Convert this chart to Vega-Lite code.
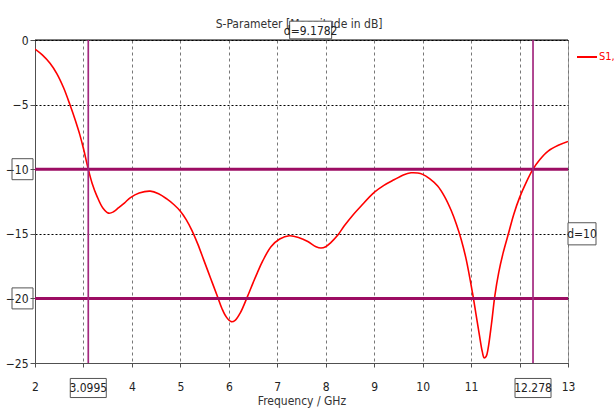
{
  "$schema": "https://vega.github.io/schema/vega-lite/v6.json",
  "width": 533,
  "height": 323,
  "autosize": {"type": "none"},
  "padding": {"left": 35, "top": 40, "right": 47, "bottom": 54},
  "background": "white",
  "config": {
    "view": {"stroke": "#a0a0a0", "strokeWidth": 1},
    "font": "'Liberation Sans Narrow', 'DejaVu Sans Condensed', 'Liberation Sans', sans-serif",
    "text": {"font": "'Liberation Sans Narrow', 'DejaVu Sans Condensed', 'Liberation Sans', sans-serif"},
    "axis": {
      "labelFont": "'Liberation Sans Narrow', 'DejaVu Sans Condensed', 'Liberation Sans', sans-serif",
      "labelFontSize": 12,
      "labelColor": "#222222",
      "titleFont": "'Liberation Sans Narrow', 'DejaVu Sans Condensed', 'Liberation Sans', sans-serif",
      "titleFontSize": 12,
      "titleFontWeight": "normal",
      "titleColor": "#333333",
      "domainColor": "#505050",
      "tickColor": "#505050"
    }
  },
  "datasets": {
    "s11": [
      {"freq": 2.00, "db": -0.7, "series": "S1,1"},
      {"freq": 2.15, "db": -1.15, "series": "S1,1"},
      {"freq": 2.31, "db": -1.8, "series": "S1,1"},
      {"freq": 2.45, "db": -2.6, "series": "S1,1"},
      {"freq": 2.59, "db": -3.7, "series": "S1,1"},
      {"freq": 2.72, "db": -5.0, "series": "S1,1"},
      {"freq": 2.83, "db": -6.2, "series": "S1,1"},
      {"freq": 2.93, "db": -7.4, "series": "S1,1"},
      {"freq": 3.00, "db": -8.4, "series": "S1,1"},
      {"freq": 3.0995, "db": -10.0, "series": "S1,1"},
      {"freq": 3.18, "db": -11.1, "series": "S1,1"},
      {"freq": 3.28, "db": -12.1, "series": "S1,1"},
      {"freq": 3.40, "db": -13.0, "series": "S1,1"},
      {"freq": 3.52, "db": -13.4, "series": "S1,1"},
      {"freq": 3.62, "db": -13.3, "series": "S1,1"},
      {"freq": 3.72, "db": -13.0, "series": "S1,1"},
      {"freq": 3.85, "db": -12.6, "series": "S1,1"},
      {"freq": 3.97, "db": -12.2, "series": "S1,1"},
      {"freq": 4.15, "db": -11.85, "series": "S1,1"},
      {"freq": 4.38, "db": -11.7, "series": "S1,1"},
      {"freq": 4.55, "db": -11.9, "series": "S1,1"},
      {"freq": 4.72, "db": -12.3, "series": "S1,1"},
      {"freq": 4.87, "db": -12.75, "series": "S1,1"},
      {"freq": 5.00, "db": -13.25, "series": "S1,1"},
      {"freq": 5.12, "db": -13.9, "series": "S1,1"},
      {"freq": 5.24, "db": -14.75, "series": "S1,1"},
      {"freq": 5.36, "db": -15.8, "series": "S1,1"},
      {"freq": 5.48, "db": -17.0, "series": "S1,1"},
      {"freq": 5.62, "db": -18.4, "series": "S1,1"},
      {"freq": 5.76, "db": -19.8, "series": "S1,1"},
      {"freq": 5.86, "db": -20.8, "series": "S1,1"},
      {"freq": 5.95, "db": -21.45, "series": "S1,1"},
      {"freq": 6.05, "db": -21.8, "series": "S1,1"},
      {"freq": 6.13, "db": -21.7, "series": "S1,1"},
      {"freq": 6.24, "db": -21.1, "series": "S1,1"},
      {"freq": 6.38, "db": -19.9, "series": "S1,1"},
      {"freq": 6.50, "db": -18.8, "series": "S1,1"},
      {"freq": 6.59, "db": -18.0, "series": "S1,1"},
      {"freq": 6.70, "db": -17.1, "series": "S1,1"},
      {"freq": 6.87, "db": -16.0, "series": "S1,1"},
      {"freq": 7.05, "db": -15.4, "series": "S1,1"},
      {"freq": 7.25, "db": -15.15, "series": "S1,1"},
      {"freq": 7.45, "db": -15.3, "series": "S1,1"},
      {"freq": 7.63, "db": -15.6, "series": "S1,1"},
      {"freq": 7.80, "db": -16.0, "series": "S1,1"},
      {"freq": 7.90, "db": -16.1, "series": "S1,1"},
      {"freq": 8.00, "db": -16.0, "series": "S1,1"},
      {"freq": 8.10, "db": -15.7, "series": "S1,1"},
      {"freq": 8.25, "db": -15.1, "series": "S1,1"},
      {"freq": 8.38, "db": -14.4, "series": "S1,1"},
      {"freq": 8.55, "db": -13.6, "series": "S1,1"},
      {"freq": 8.73, "db": -12.85, "series": "S1,1"},
      {"freq": 9.00, "db": -11.8, "series": "S1,1"},
      {"freq": 9.20, "db": -11.25, "series": "S1,1"},
      {"freq": 9.42, "db": -10.8, "series": "S1,1"},
      {"freq": 9.60, "db": -10.45, "series": "S1,1"},
      {"freq": 9.76, "db": -10.28, "series": "S1,1"},
      {"freq": 9.90, "db": -10.3, "series": "S1,1"},
      {"freq": 10.00, "db": -10.4, "series": "S1,1"},
      {"freq": 10.15, "db": -10.75, "series": "S1,1"},
      {"freq": 10.31, "db": -11.3, "series": "S1,1"},
      {"freq": 10.45, "db": -12.1, "series": "S1,1"},
      {"freq": 10.59, "db": -13.2, "series": "S1,1"},
      {"freq": 10.70, "db": -14.3, "series": "S1,1"},
      {"freq": 10.80, "db": -15.5, "series": "S1,1"},
      {"freq": 10.90, "db": -17.0, "series": "S1,1"},
      {"freq": 11.03, "db": -19.6, "series": "S1,1"},
      {"freq": 11.10, "db": -21.2, "series": "S1,1"},
      {"freq": 11.17, "db": -22.8, "series": "S1,1"},
      {"freq": 11.23, "db": -24.1, "series": "S1,1"},
      {"freq": 11.27, "db": -24.6, "series": "S1,1"},
      {"freq": 11.31, "db": -24.5, "series": "S1,1"},
      {"freq": 11.35, "db": -23.9, "series": "S1,1"},
      {"freq": 11.42, "db": -22.0, "series": "S1,1"},
      {"freq": 11.49, "db": -19.8, "series": "S1,1"},
      {"freq": 11.57, "db": -18.0, "series": "S1,1"},
      {"freq": 11.66, "db": -16.5, "series": "S1,1"},
      {"freq": 11.77, "db": -15.0, "series": "S1,1"},
      {"freq": 11.88, "db": -13.5, "series": "S1,1"},
      {"freq": 12.00, "db": -12.2, "series": "S1,1"},
      {"freq": 12.14, "db": -11.0, "series": "S1,1"},
      {"freq": 12.278, "db": -10.0, "series": "S1,1"},
      {"freq": 12.42, "db": -9.25, "series": "S1,1"},
      {"freq": 12.59, "db": -8.6, "series": "S1,1"},
      {"freq": 12.80, "db": -8.15, "series": "S1,1"},
      {"freq": 13.00, "db": -7.85, "series": "S1,1"}
    ],
    "heading": [
      {"center": 7.45, "label": "S-Parameter [Magnitude in dB]"}
    ],
    "xmarks": [
      {"freq": 3.0995, "label": "3.0995"},
      {"freq": 12.278, "label": "12.278"}
    ],
    "ymarks": [
      {"level": -10},
      {"level": -20}
    ],
    "span": [
      {"mid": 7.68875, "label": "d=9.1782"}
    ],
    "gap": [
      {"level": -15, "label": "d=10"}
    ]
  },
  "layer": [
    {
      "data": {"name": "s11"},
      "mark": {"type": "line", "color": "#ff0000", "strokeWidth": 1.6, "interpolate": "catmull-rom", "clip": true},
      "encoding": {
        "x": {
          "field": "freq",
          "type": "quantitative",
          "scale": {"domain": [2, 13], "nice": false, "zero": false},
          "axis": {
            "title": "Frequency / GHz",
            "titlePadding": 3,
            "values": [2, 3, 4, 5, 6, 7, 8, 9, 10, 11, 12, 13],
            "labelExpr": "datum.value == 3 || datum.value == 12 ? '' : datum.label",
            "tickSize": 4,
            "labelPadding": 14,
            "grid": true,
            "gridDash": [3, 3],
            "gridColor": "#777777",
            "gridOpacity": 1,
            "labelFlush": false
          }
        },
        "y": {
          "field": "db",
          "type": "quantitative",
          "scale": {"domain": [-25, 0], "nice": false, "zero": false},
          "axis": {
            "title": null,
            "values": [0, -5, -10, -15, -20, -25],
            "tickSize": 5,
            "labelPadding": 2,
            "grid": true,
            "gridDash": [2, 2],
            "gridColor": "#000000",
            "gridOpacity": 1,
            "labelFlush": false
          }
        },
        "color": {
          "field": "series",
          "type": "nominal",
          "scale": {"range": ["#ff0000"]},
          "legend": {
            "title": null,
            "orient": "none",
            "legendX": 541,
            "legendY": 6,
            "padding": 0,
            "symbolType": "stroke",
            "symbolSize": 400,
            "symbolStrokeWidth": 2,
            "labelColor": "#ff0000",
            "labelFont": "'Liberation Sans Narrow', 'DejaVu Sans Condensed', 'Liberation Sans', sans-serif",
            "labelFontSize": 11,
            "labelOffset": 1
          }
        }
      }
    },
    {
      "data": {"values": [{"top": 0}]},
      "mark": {"type": "rule", "color": "#000000", "strokeWidth": 1.2},
      "encoding": {"y": {"field": "top", "type": "quantitative"}}
    },
    {
      "data": {"name": "ymarks"},
      "mark": {"type": "rule", "color": "#9c0d63", "strokeWidth": 3},
      "encoding": {"y": {"field": "level", "type": "quantitative"}}
    },
    {
      "data": {"name": "xmarks"},
      "mark": {"type": "rule", "color": "#a3287f", "strokeWidth": 1.7},
      "encoding": {"x": {"field": "freq", "type": "quantitative"}}
    },
    {
      "data": {"name": "heading"},
      "mark": {"type": "text", "fontSize": 12, "color": "#333333", "baseline": "middle", "align": "center", "yOffset": -16.5, "clip": false},
      "encoding": {
        "x": {"field": "center", "type": "quantitative"},
        "y": {"datum": 0, "type": "quantitative"},
        "text": {"field": "label"}
      }
    },
    {
      "data": {"name": "ymarks"},
      "mark": {"type": "point", "shape": "square", "filled": false, "size": 441, "stroke": "#555555", "strokeWidth": 1, "opacity": 1, "xOffset": -12.5, "clip": false},
      "encoding": {
        "x": {"datum": 2, "type": "quantitative"},
        "y": {"field": "level", "type": "quantitative"}
      }
    },
    {
      "data": {"name": "xmarks"},
      "mark": {"type": "point", "shape": "M-1,-0.53H1V0.53H-1Z", "filled": true, "fill": "white", "size": 1296, "stroke": "#555555", "strokeWidth": 1, "opacity": 1, "yOffset": 25, "clip": false},
      "encoding": {
        "x": {"field": "freq", "type": "quantitative"},
        "y": {"datum": -25, "type": "quantitative"}
      }
    },
    {
      "data": {"name": "xmarks"},
      "mark": {"type": "text", "fontSize": 12, "color": "#222222", "baseline": "middle", "align": "center", "yOffset": 25},
      "encoding": {
        "x": {"field": "freq", "type": "quantitative"},
        "y": {"datum": -25, "type": "quantitative"},
        "text": {"field": "label"}
      }
    },
    {
      "data": {"name": "span"},
      "mark": {"type": "point", "shape": "M-1,-0.42H1V0.42H-1Z", "filled": true, "fill": "white", "size": 1764, "stroke": "#555555", "strokeWidth": 1, "opacity": 1, "yOffset": -10, "clip": false},
      "encoding": {
        "x": {"field": "mid", "type": "quantitative"},
        "y": {"datum": 0, "type": "quantitative"}
      }
    },
    {
      "data": {"name": "span"},
      "mark": {"type": "text", "fontSize": 12, "color": "#222222", "baseline": "middle", "align": "center", "yOffset": -9},
      "encoding": {
        "x": {"field": "mid", "type": "quantitative"},
        "y": {"datum": 0, "type": "quantitative"},
        "text": {"field": "label"}
      }
    },
    {
      "data": {"name": "gap"},
      "mark": {"type": "point", "shape": "M-1,-0.79H1V0.79H-1Z", "filled": true, "fill": "white", "size": 784, "stroke": "#555555", "strokeWidth": 1, "opacity": 1, "xOffset": 14, "clip": false},
      "encoding": {
        "x": {"datum": 13, "type": "quantitative"},
        "y": {"field": "level", "type": "quantitative"}
      }
    },
    {
      "data": {"name": "gap"},
      "mark": {"type": "text", "fontSize": 12, "color": "#222222", "baseline": "middle", "align": "center", "xOffset": 14},
      "encoding": {
        "x": {"datum": 13, "type": "quantitative"},
        "y": {"field": "level", "type": "quantitative"},
        "text": {"field": "label"}
      }
    }
  ]
}
